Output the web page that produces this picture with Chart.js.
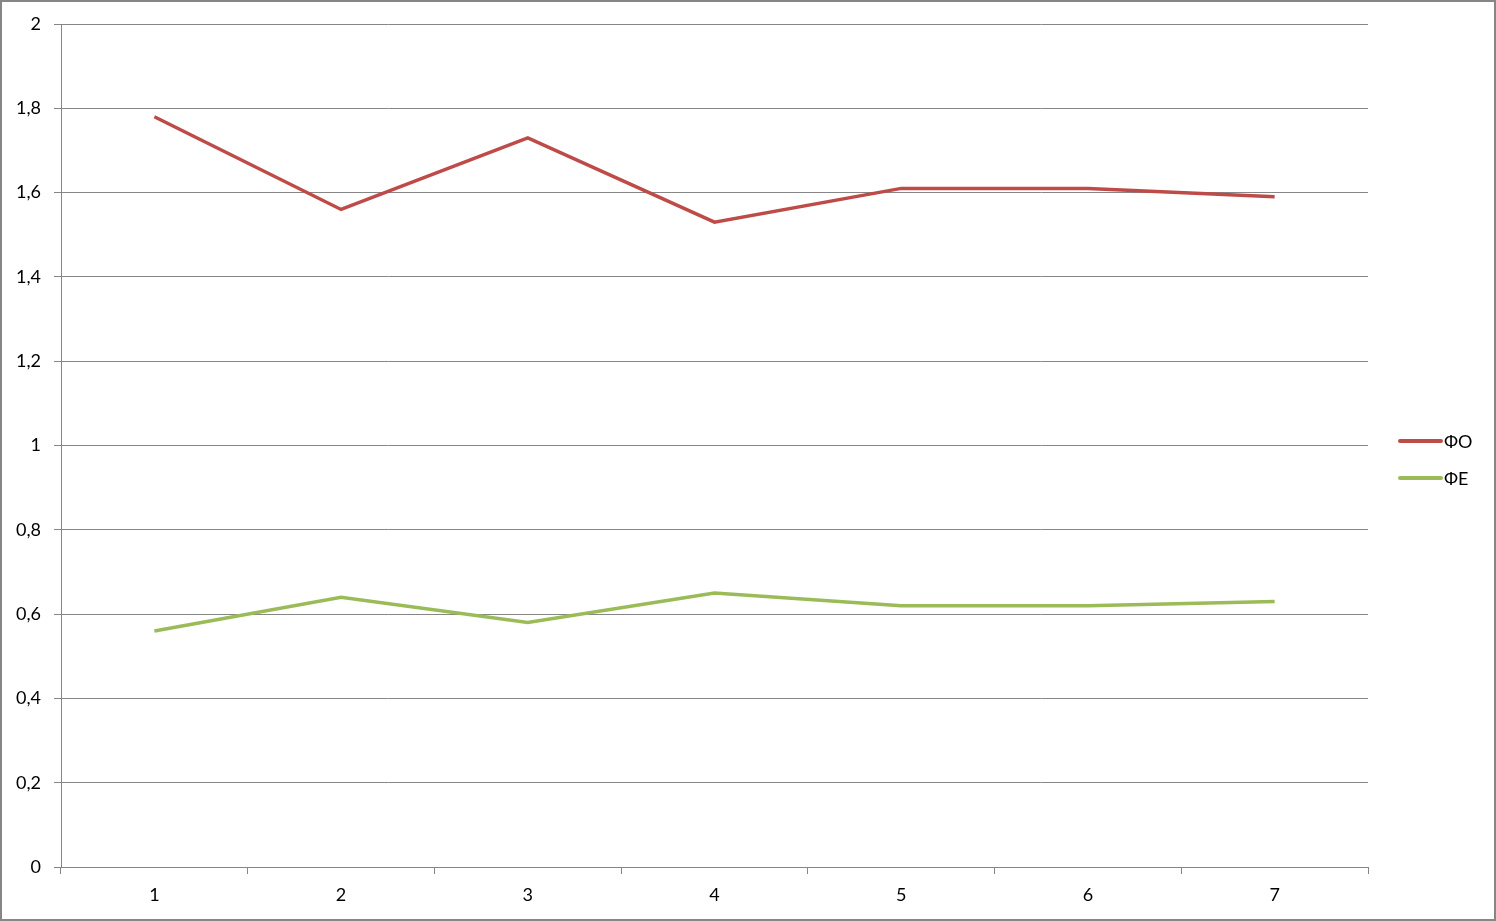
<!DOCTYPE html>
<html>
<head>
<meta charset="utf-8">
<script src="https://cdn.jsdelivr.net/npm/chart.js@4"></script>
<style>
  html, body { margin: 0; padding: 0; background: #fff; }
  #wrap { width: 1496px; height: 921px; position: relative; }
</style>
</head>
<body>
<div id="wrap"><canvas id="chart" width="1496" height="921"></canvas></div>
<script>
// data
const categories = ['1', '2', '3', '4', '5', '6', '7'];
const foValues = [1.78, 1.56, 1.73, 1.53, 1.61, 1.61, 1.59];
const feValues = [0.56, 0.64, 0.58, 0.65, 0.62, 0.62, 0.63];
const seriesNames = ['ФО', 'ФЕ'];
const yTicks = [0, 0.2, 0.4, 0.6, 0.8, 1, 1.2, 1.4, 1.6, 1.8, 2];

const gridGray = '#868686';
const fontFamily = 'Lato, "Open Sans", sans-serif';

// frame round the whole picture + legend on the right
const framePlugin = {
    id: 'frame',
    afterDraw(chart) {
        const c = chart.ctx;
        c.save();
        c.strokeStyle = gridGray;
        c.lineWidth = 2;
        c.strokeRect(1, 1, chart.width - 2, chart.height - 2);

        // legend
        const x0 = 1400, x1 = 1441;
        const ys = [441, 478];
        c.font = '18px ' + fontFamily;
        c.textBaseline = 'middle';
        c.textAlign = 'left';
        chart.data.datasets.forEach((ds, i) => {
            c.strokeStyle = ds.borderColor;
            c.lineWidth = 4;
            c.lineCap = 'round';
            c.beginPath();
            c.moveTo(x0, ys[i]);
            c.lineTo(x1, ys[i]);
            c.stroke();
            c.fillStyle = '#000';
            c.fillText(ds.label, x1 + 3, ys[i] + 1);
        });
        c.restore();
    }
};

new Chart(document.getElementById('chart'), {
    type: 'line',
    data: {
        labels: categories,
        datasets: [
            {
                label: seriesNames[0],
                data: foValues,
                borderColor: '#BE4B48',
                backgroundColor: '#BE4B48',
                borderWidth: 3.5,
                pointRadius: 0,
                tension: 0
            },
            {
                label: seriesNames[1],
                data: feValues,
                borderColor: '#9BBB59',
                backgroundColor: '#9BBB59',
                borderWidth: 3.5,
                pointRadius: 0,
                tension: 0
            }
        ]
    },
    options: {
        responsive: false,
        animation: false,
        layout: {
            padding: { left: 2, top: 24, right: 128, bottom: 2 }
        },
        plugins: {
            legend: { display: false },
            tooltip: { enabled: false }
        },
        scales: {
            x: {
                offset: true,
                grid: {
                    offset: true,
                    drawOnChartArea: false,
                    color: gridGray,
                    tickLength: 7,
                    lineWidth: 1
                },
                border: { color: gridGray, width: 1 },
                ticks: {
                    color: '#000',
                    padding: 10,
                    font: { family: fontFamily, size: 18 }
                },
                afterFit(scale) { scale.height = 52; }
            },
            y: {
                min: 0,
                max: 2,
                afterBuildTicks(scale) {
                    scale.ticks = yTicks.map(v => ({ value: v }));
                },
                grid: {
                    color: gridGray,
                    tickLength: 7,
                    lineWidth: 1
                },
                border: { color: gridGray, width: 1 },
                ticks: {
                    color: '#000',
                    padding: 13,
                    font: { family: fontFamily, size: 18 },
                    callback: v => String(v).replace('.', ',')
                },
                afterFit(scale) { scale.width = 59; }
            }
        }
    },
    plugins: [framePlugin]
});
</script>
</body>
</html>
